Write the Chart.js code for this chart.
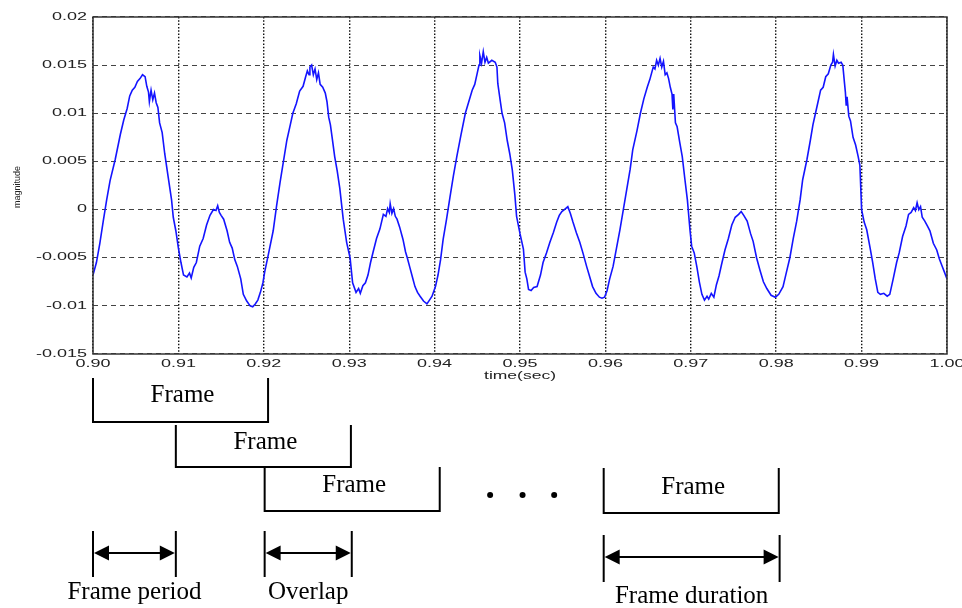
<!DOCTYPE html>
<html>
<head>
<meta charset="utf-8">
<script src="https://cdn.jsdelivr.net/npm/chart.js@4.4.1/dist/chart.umd.min.js"></script>
<style>
  body { margin: 0; background: #fff; }
  canvas { display: block; }
</style>
</head>
<body>
<canvas id="waveChart" width="962" height="608"></canvas>
<script>
// signal: time (sec) and magnitude
var times = [
  0.9000, 0.9004, 0.9008, 0.9012, 0.9016, 0.9020, 0.9026, 0.9032, 0.9036, 0.9040, 0.9043, 0.9046, 0.9049, 0.9052, 0.9055, 0.9058,
  0.9061, 0.9063, 0.9065, 0.9066, 0.9068, 0.9070, 0.9072, 0.9074, 0.9076, 0.9078, 0.9081, 0.9084, 0.9088, 0.9092, 0.9094, 0.9097,
  0.9100, 0.9103, 0.9106, 0.9110, 0.9113, 0.9115, 0.9118, 0.9121, 0.9125, 0.9129, 0.9133, 0.9137, 0.9141, 0.9144, 0.9146, 0.9148,
  0.9150, 0.9153, 0.9157, 0.9160, 0.9163, 0.9166, 0.9169, 0.9173, 0.9176, 0.9180, 0.9184, 0.9187, 0.9190, 0.9193, 0.9196, 0.9199,
  0.9201, 0.9205, 0.9211, 0.9215, 0.9219, 0.9223, 0.9227, 0.9231, 0.9234, 0.9238, 0.9242, 0.9246, 0.9249, 0.9251, 0.9253, 0.9254,
  0.9256, 0.9258, 0.9260, 0.9262, 0.9264, 0.9266, 0.9269, 0.9272, 0.9274, 0.9276, 0.9278, 0.9280, 0.9283, 0.9286, 0.9289, 0.9293,
  0.9297, 0.9301, 0.9304, 0.9308, 0.9311, 0.9313, 0.9316, 0.9319, 0.9322, 0.9325, 0.9328, 0.9332, 0.9336, 0.9340, 0.9343, 0.9345,
  0.9347, 0.9348, 0.9350, 0.9352, 0.9354, 0.9356, 0.9359, 0.9363, 0.9366, 0.9368, 0.9371, 0.9374, 0.9377, 0.9380, 0.9383, 0.9387,
  0.9391, 0.9394, 0.9397, 0.9401, 0.9404, 0.9407, 0.9410, 0.9414, 0.9418, 0.9422, 0.9426, 0.9431, 0.9436, 0.9440, 0.9444, 0.9447,
  0.9450, 0.9452, 0.9453, 0.9455, 0.9457, 0.9459, 0.9461, 0.9463, 0.9467, 0.9471, 0.9473, 0.9474, 0.9477, 0.9479, 0.9482, 0.9485,
  0.9488, 0.9491, 0.9494, 0.9496, 0.9500, 0.9504, 0.9506, 0.9508, 0.9510, 0.9513, 0.9516, 0.9520, 0.9524, 0.9527, 0.9531, 0.9535,
  0.9539, 0.9543, 0.9546, 0.9549, 0.9552, 0.9556, 0.9559, 0.9562, 0.9566, 0.9570, 0.9574, 0.9578, 0.9581, 0.9585, 0.9589, 0.9593,
  0.9596, 0.9599, 0.9602, 0.9605, 0.9609, 0.9613, 0.9617, 0.9621, 0.9625, 0.9629, 0.9632, 0.9637, 0.9641, 0.9645, 0.9649, 0.9652,
  0.9656, 0.9658, 0.9660, 0.9662, 0.9664, 0.9666, 0.9668, 0.9670, 0.9672, 0.9674, 0.9676, 0.9678, 0.9679, 0.9680, 0.9682, 0.9684,
  0.9687, 0.9690, 0.9693, 0.9696, 0.9699, 0.9701, 0.9704, 0.9707, 0.9710, 0.9713, 0.9716, 0.9719, 0.9721, 0.9724, 0.9727, 0.9730,
  0.9733, 0.9736, 0.9740, 0.9744, 0.9748, 0.9752, 0.9756, 0.9759, 0.9762, 0.9766, 0.9770, 0.9773, 0.9777, 0.9781, 0.9785, 0.9789,
  0.9794, 0.9799, 0.9803, 0.9808, 0.9812, 0.9816, 0.9820, 0.9824, 0.9828, 0.9831, 0.9836, 0.9840, 0.9843, 0.9846, 0.9849, 0.9852,
  0.9855, 0.9858, 0.9861, 0.9864, 0.9866, 0.9867, 0.9869, 0.9871, 0.9873, 0.9876, 0.9878, 0.9880, 0.9881, 0.9882, 0.9883, 0.9885,
  0.9887, 0.9890, 0.9893, 0.9896, 0.9898, 0.9900, 0.9903, 0.9906, 0.9910, 0.9913, 0.9916, 0.9919, 0.9922, 0.9926, 0.9930, 0.9933,
  0.9937, 0.9941, 0.9944, 0.9948, 0.9952, 0.9955, 0.9958, 0.9961, 0.9963, 0.9965, 0.9967, 0.9969, 0.9971, 0.9974, 0.9977, 0.9980,
  0.9984, 0.9988, 0.9991, 0.9994, 0.9997, 1.0000
];
var magnitude = [
  -0.0068, -0.0055, -0.0035, -0.0012, 0.0010, 0.0030, 0.0052, 0.0078, 0.0093, 0.0105, 0.0118, 0.0124, 0.0127, 0.0133, 0.0136, 0.0140,
  0.0138, 0.0128, 0.0122, 0.0112, 0.0124, 0.0114, 0.0121, 0.0111, 0.0106, 0.0090, 0.0080, 0.0058, 0.0034, 0.0010, -0.0008, -0.0022,
  -0.0040, -0.0055, -0.0068, -0.0070, -0.0066, -0.0071, -0.0060, -0.0055, -0.0038, -0.0030, -0.0016, -0.0006, 0.0000, -0.0001, 0.0004, -0.0003,
  -0.0006, -0.0010, -0.0022, -0.0034, -0.0040, -0.0052, -0.0059, -0.0072, -0.0088, -0.0095, -0.0100, -0.0101, -0.0098, -0.0094, -0.0086, -0.0076,
  -0.0065, -0.0048, -0.0022, 0.0004, 0.0028, 0.0050, 0.0072, 0.0088, 0.0100, 0.0110, 0.0123, 0.0128, 0.0138, 0.0144, 0.0140, 0.0148,
  0.0150, 0.0140, 0.0146, 0.0135, 0.0142, 0.0130, 0.0127, 0.0121, 0.0112, 0.0096, 0.0088, 0.0075, 0.0055, 0.0040, 0.0022, -0.0010,
  -0.0034, -0.0050, -0.0076, -0.0086, -0.0082, -0.0087, -0.0079, -0.0076, -0.0068, -0.0055, -0.0044, -0.0030, -0.0020, -0.0005, -0.0007, 0.0001,
  -0.0003, 0.0006, -0.0004, 0.0001, -0.0007, -0.0010, -0.0018, -0.0031, -0.0044, -0.0050, -0.0060, -0.0070, -0.0080, -0.0086, -0.0090, -0.0095,
  -0.0098, -0.0094, -0.0090, -0.0080, -0.0068, -0.0052, -0.0031, -0.0010, 0.0013, 0.0035, 0.0055, 0.0078, 0.0100, 0.0112, 0.0124, 0.0130,
  0.0142, 0.0150, 0.0160, 0.0152, 0.0164, 0.0153, 0.0158, 0.0152, 0.0155, 0.0153, 0.0148, 0.0131, 0.0112, 0.0100, 0.0090, 0.0072,
  0.0058, 0.0041, 0.0015, -0.0007, -0.0025, -0.0041, -0.0065, -0.0072, -0.0083, -0.0084, -0.0081, -0.0080, -0.0068, -0.0055, -0.0045, -0.0034,
  -0.0024, -0.0013, -0.0006, -0.0002, 0.0000, 0.0003, -0.0004, -0.0013, -0.0024, -0.0034, -0.0046, -0.0059, -0.0068, -0.0080, -0.0087, -0.0091,
  -0.0092, -0.0091, -0.0084, -0.0072, -0.0059, -0.0040, -0.0021, 0.0000, 0.0021, 0.0042, 0.0062, 0.0082, 0.0100, 0.0115, 0.0127, 0.0135,
  0.0148, 0.0146, 0.0155, 0.0150, 0.0157, 0.0148, 0.0154, 0.0140, 0.0142, 0.0136, 0.0127, 0.0120, 0.0104, 0.0120, 0.0090, 0.0086,
  0.0070, 0.0055, 0.0032, 0.0010, -0.0021, -0.0038, -0.0045, -0.0059, -0.0075, -0.0088, -0.0094, -0.0090, -0.0093, -0.0087, -0.0091, -0.0078,
  -0.0069, -0.0057, -0.0042, -0.0030, -0.0016, -0.0008, -0.0005, -0.0002, -0.0006, -0.0012, -0.0025, -0.0033, -0.0050, -0.0063, -0.0075, -0.0082,
  -0.0089, -0.0091, -0.0088, -0.0080, -0.0065, -0.0050, -0.0030, -0.0012, 0.0010, 0.0031, 0.0052, 0.0072, 0.0088, 0.0100, 0.0112, 0.0124,
  0.0127, 0.0138, 0.0141, 0.0150, 0.0153, 0.0161, 0.0149, 0.0155, 0.0152, 0.0153, 0.0150, 0.0131, 0.0122, 0.0108, 0.0117, 0.0097,
  0.0092, 0.0075, 0.0067, 0.0055, 0.0046, 0.0000, -0.0013, -0.0021, -0.0040, -0.0055, -0.0072, -0.0086, -0.0088, -0.0087, -0.0090, -0.0088,
  -0.0072, -0.0055, -0.0045, -0.0028, -0.0017, -0.0005, -0.0003, 0.0002, -0.0001, 0.0007, 0.0000, 0.0003, -0.0008, -0.0012, -0.0017, -0.0022,
  -0.0035, -0.0042, -0.0051, -0.0058, -0.0065, -0.0072
];

// axis ticks
var xTicks = [0.90, 0.91, 0.92, 0.93, 0.94, 0.95, 0.96, 0.97, 0.98, 0.99, 1.00];
var yTicks = [-0.015, -0.01, -0.005, 0, 0.005, 0.01, 0.015, 0.02];

// framing diagram under the plot (in seconds, as drawn)
var frameStarts = [0.9000, 0.9097, 0.9201, 0.9598];
var frameLength = 0.0205;
var spanStarts = [0.9000, 0.9201, 0.9598];
var spanEnds = [0.9097, 0.9303, 0.9804];
var spanLabels = ['Frame period', 'Overlap', 'Frame duration'];
var dotTimes = [0.9465, 0.9503, 0.9540];

var points = times.map(function(t, i) { return { x: t, y: magnitude[i] }; });

function wideText(ctx, text, x, y, sx, align) {
    ctx.save();
    ctx.translate(x, y);
    ctx.scale(sx, 1);
    ctx.textAlign = align;
    ctx.fillText(text, 0, 0);
    ctx.restore();
}

function arrowHead(ctx, x, y, dir) {
    ctx.beginPath();
    ctx.moveTo(x, y);
    ctx.lineTo(x + dir * 15, y - 7.5);
    ctx.lineTo(x + dir * 15, y + 7.5);
    ctx.closePath();
    ctx.fill();
}

var overlay = {
    id: 'overlay',
    afterDraw: function(chart) {
        var ctx = chart.ctx;
        var a = chart.chartArea;
        var xs = chart.scales.x, ys = chart.scales.y;
        ctx.save();

        // plot box
        ctx.strokeStyle = '#333';
        ctx.lineWidth = 1.5;
        ctx.strokeRect(a.left, a.top, a.right - a.left, a.bottom - a.top);

        // tick labels, matlab style (wide)
        ctx.fillStyle = '#222';
        ctx.font = '10px "Liberation Sans"';
        ctx.textBaseline = 'middle';
        yTicks.forEach(function(v) {
            wideText(ctx, String(v), a.left - 6, ys.getPixelForValue(v), 1.8, 'right');
        });
        xTicks.forEach(function(v) {
            wideText(ctx, v.toFixed(2), xs.getPixelForValue(v), a.bottom + 10, 1.8, 'center');
        });
        wideText(ctx, 'time(sec)', (a.left + a.right) / 2, a.bottom + 22, 1.75, 'center');

        ctx.save();
        ctx.translate(18, 187);
        ctx.rotate(-Math.PI / 2);
        ctx.font = '9px "Liberation Sans"';
        ctx.textAlign = 'center';
        ctx.fillText('magnitude', 0, 0);
        ctx.restore();

        // frames
        var frameTop = [378, 425, 467, 468];
        var frameBottom = [422, 467, 511, 513];
        var frameText = [395, 442, 485, 487];
        ctx.strokeStyle = '#000';
        ctx.fillStyle = '#000';
        ctx.lineWidth = 2;
        ctx.font = '25px "Liberation Serif"';
        ctx.textAlign = 'center';
        frameStarts.forEach(function(s, i) {
            var x1 = xs.getPixelForValue(s);
            var x2 = xs.getPixelForValue(s + frameLength);
            ctx.beginPath();
            ctx.moveTo(x1, frameTop[i]);
            ctx.lineTo(x1, frameBottom[i]);
            ctx.lineTo(x2, frameBottom[i]);
            ctx.lineTo(x2, frameTop[i]);
            ctx.stroke();
            ctx.fillText('Frame', (x1 + x2) / 2 + 2, frameText[i]);
        });

        // dots
        dotTimes.forEach(function(t) {
            ctx.beginPath();
            ctx.arc(xs.getPixelForValue(t), 495, 3, 0, Math.PI * 2);
            ctx.fill();
        });

        // span arrows
        var barTop = [531, 531, 535];
        var barBottom = [577, 577, 582];
        var arrowY = [553, 553, 557];
        var labelY = [592, 592, 596];
        spanStarts.forEach(function(s, i) {
            var x1 = xs.getPixelForValue(s);
            var x2 = xs.getPixelForValue(spanEnds[i]);
            ctx.beginPath();
            ctx.moveTo(x1, barTop[i]); ctx.lineTo(x1, barBottom[i]);
            ctx.moveTo(x2, barTop[i]); ctx.lineTo(x2, barBottom[i]);
            ctx.moveTo(x1 + 10, arrowY[i]); ctx.lineTo(x2 - 10, arrowY[i]);
            ctx.stroke();
            arrowHead(ctx, x1 + 1, arrowY[i], 1);
            arrowHead(ctx, x2 - 1, arrowY[i], -1);
            ctx.fillText(spanLabels[i], (x1 + x2) / 2, labelY[i]);
        });

        ctx.restore();
    }
};

var ctx = document.getElementById('waveChart').getContext('2d');

var waveChart = new Chart(ctx, {
    type: 'line',
    data: {
        datasets: [{
            label: 'magnitude',
            data: points,
            borderColor: '#1414ff',
            borderWidth: 1.6,
            pointRadius: 0,
            tension: 0,
            fill: false
        }]
    },
    options: {
        responsive: false,
        animation: false,
        layout: { padding: { left: 93, top: 17, right: 15, bottom: 254 } },
        plugins: {
            legend: { display: false },
            tooltip: { enabled: false }
        },
        scales: {
            x: {
                type: 'linear',
                min: 0.9,
                max: 1.0,
                ticks: { stepSize: 0.01, display: false },
                grid: { color: '#111', lineWidth: 1.4, drawTicks: false },
                border: { display: false, dash: [1.5, 1.8] },
                afterFit: function(s) { s.height = 0; }
            },
            y: {
                min: -0.015,
                max: 0.02,
                ticks: { stepSize: 0.005, display: false },
                grid: { color: '#444', lineWidth: 1.1, drawTicks: false },
                border: { display: false, dash: [5, 4] },
                afterFit: function(s) { s.width = 0; }
            }
        }
    },
    plugins: [overlay]
});
</script>
</body>
</html>
